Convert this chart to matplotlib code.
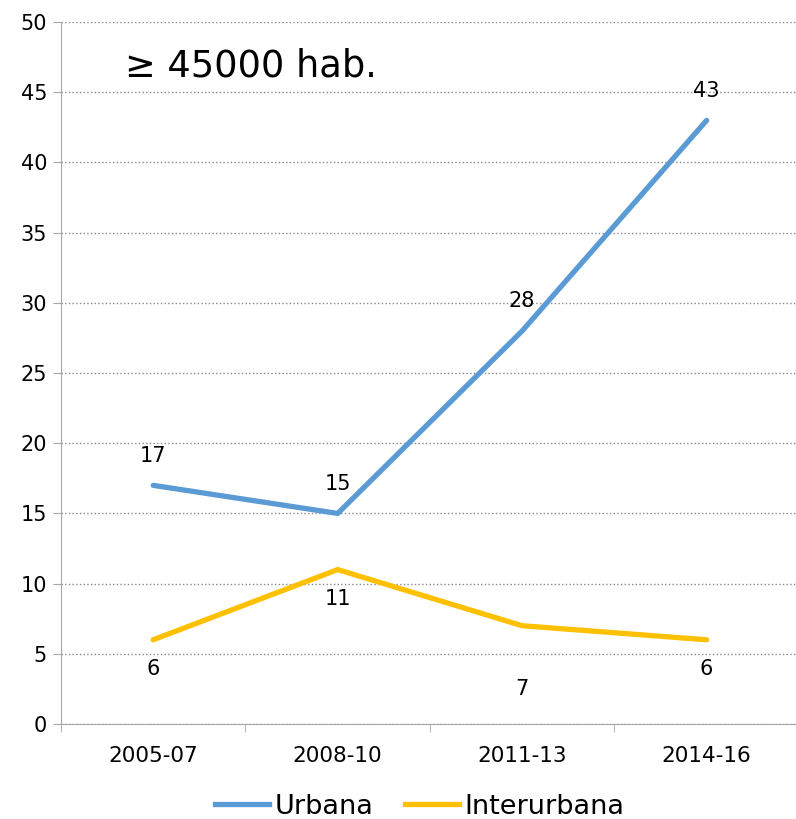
import matplotlib.pyplot as plt
from matplotlib.lines import Line2D

periods = ['2005-07', '2008-10', '2011-13', '2014-16']
urbana = [17, 15, 28, 43]
interurbana = [6, 11, 7, 6]

blue = '#5B9BD5'
gold = '#FFC000'

fig = plt.figure(figsize=(7.96, 8.19), dpi=100)
ax = fig.add_axes([0.0766, 0.116, 0.927, 0.857])

x = list(range(len(periods)))
ax.plot(x, urbana, color=blue, lw=3.8, solid_capstyle='round', zorder=3)
ax.plot(x, interurbana, color=gold, lw=3.8, solid_capstyle='round', zorder=3)

# label offsets as Excel placed them (points)
up_off = [14, 14, 14, 14]
down_off = [-14, -14, -38, -14]
for xi, v, o in zip(x, urbana, up_off):
    ax.annotate(str(v), (xi, v), xytext=(0, o), textcoords='offset points',
                ha='center', va='bottom', fontsize=15)
for xi, v, o in zip(x, interurbana, down_off):
    ax.annotate(str(v), (xi, v), xytext=(0, o), textcoords='offset points',
                ha='center', va='top', fontsize=15)

ax.set_xlim(-0.5, len(periods) - 0.5)
ax.set_ylim(0, 50)
ax.set_yticks(range(0, 51, 5))
ax.set_xticks(x)
ax.set_xticklabels(periods, fontsize=15.5)
ax.set_xticks([i - 0.5 for i in range(len(periods) + 1)], minor=True)
ax.tick_params(axis='x', which='major', length=0, pad=16)
ax.tick_params(axis='x', which='minor', length=6, color='#A6A6A6')
ax.tick_params(axis='y', labelsize=15, length=6, color='#A6A6A6', pad=4)

ax.grid(axis='y', linestyle=':', color='#888888', lw=1)
for s in ['top', 'right']:
    ax.spines[s].set_visible(False)
for s in ['left', 'bottom']:
    ax.spines[s].set_color('#A6A6A6')

ax.text(0.087, 0.937, '\u2265 45000 hab.', transform=ax.transAxes,
        fontsize=26.5, ha='left', va='center')

handles = [Line2D([0], [0], color=blue, lw=3.8),
           Line2D([0], [0], color=gold, lw=3.8)]
fig.legend(handles, ['Urbana', 'Interurbana'], loc='center',
           bbox_to_anchor=(0.527, 0.015), ncol=2, frameon=False,
           fontsize=19.5, handlelength=2.0, handletextpad=0.2, columnspacing=1.15)

fig.savefig('out.png', dpi=100)
